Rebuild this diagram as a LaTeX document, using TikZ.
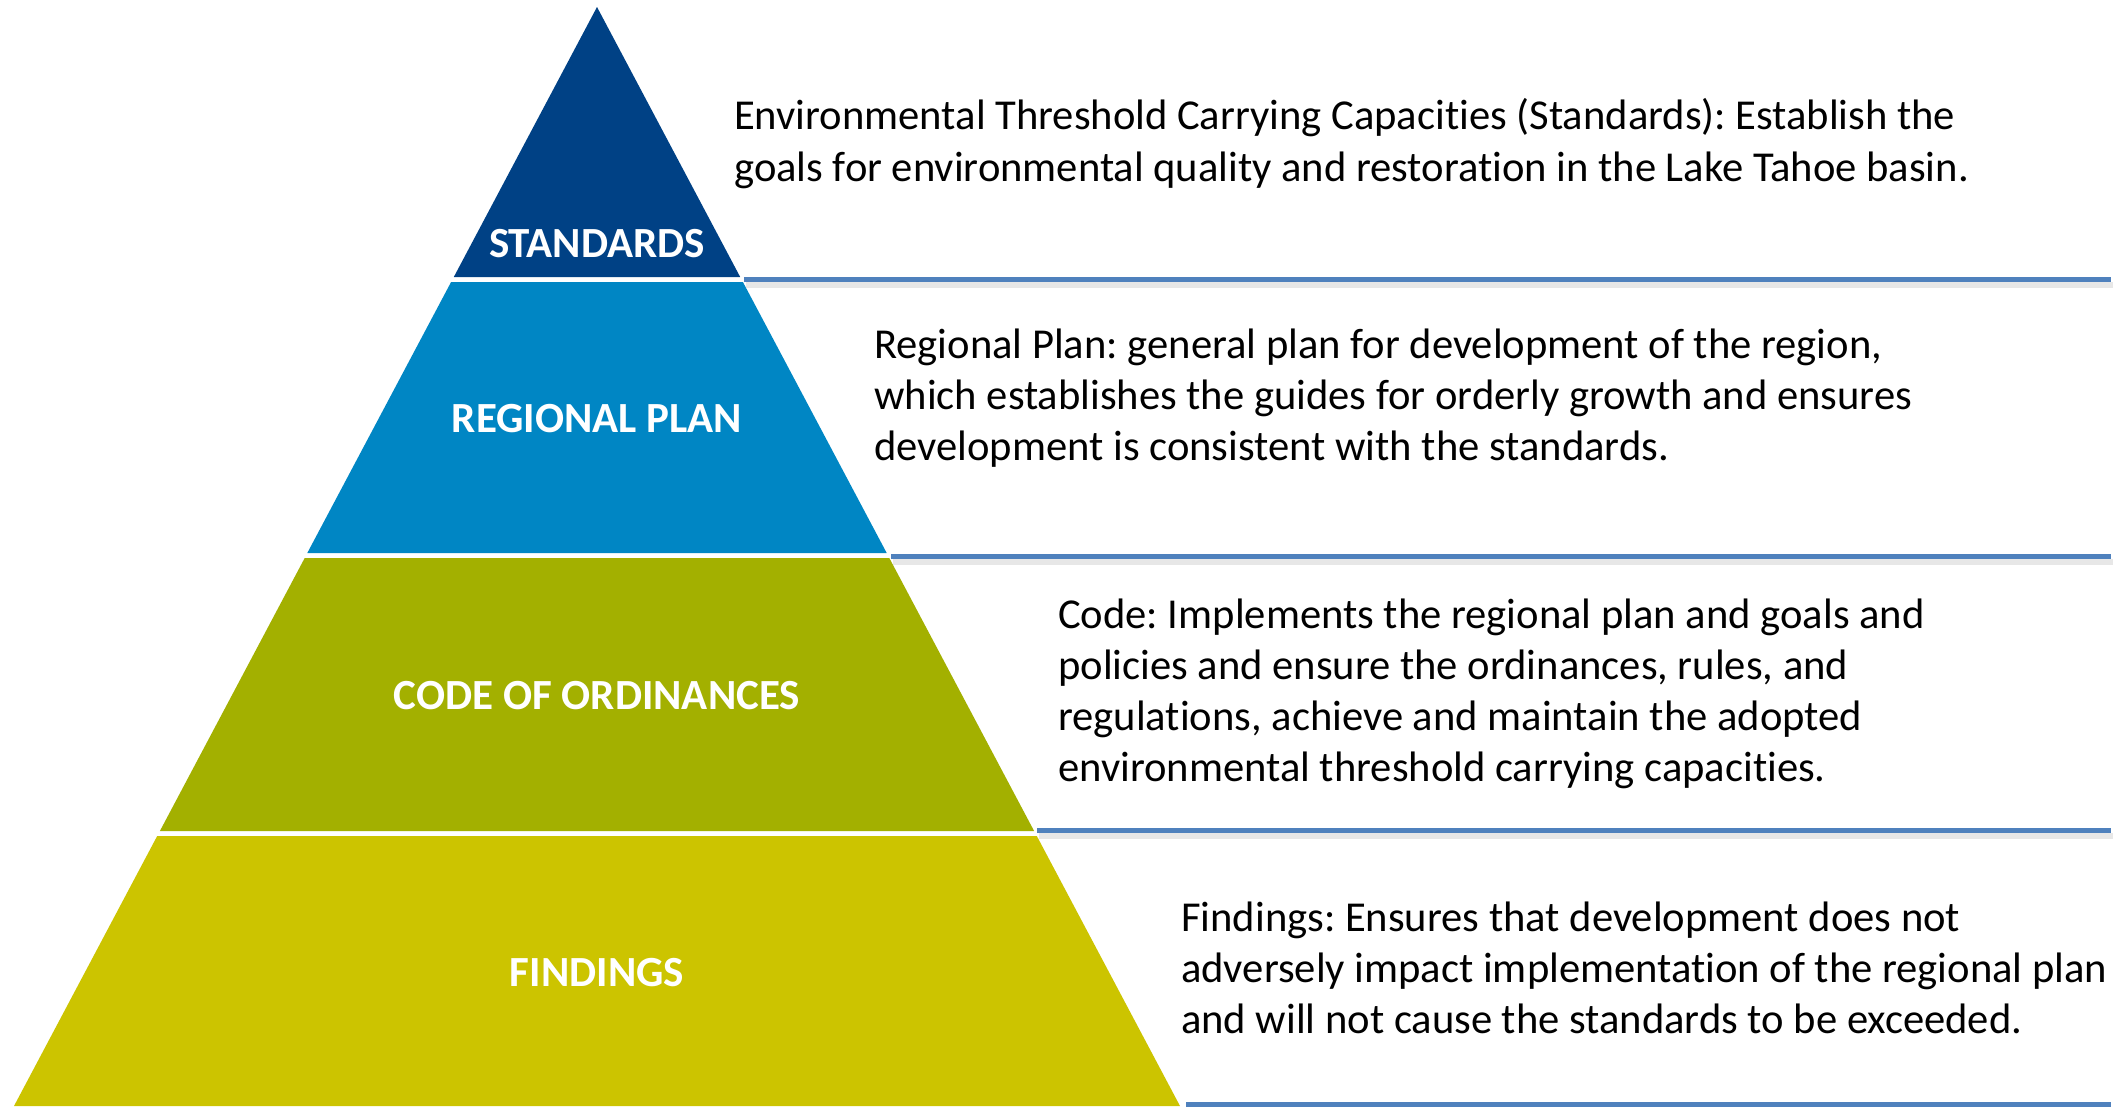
\documentclass[tikz,border=0pt]{standalone}
\usepackage{fontspec}
\setmainfont{Carlito}[Ligatures=NoCommon]
\definecolor{cStd}{RGB}{0,65,133}
\definecolor{cReg}{RGB}{0,134,196}
\definecolor{cCode}{RGB}{163,176,0}
\definecolor{cFind}{RGB}{204,196,0}
\definecolor{cLine}{RGB}{79,129,189}
\newcommand\bodyfnt{\frenchspacing\fontsize{42.6}{51}\selectfont}
\newcommand\labfnt{\bfseries\fontsize{43}{50}\selectfont}
\tikzset{
  layer/.style={fill=#1, draw=none},
  lab/.style={anchor=base, inner sep=0pt, text=white, font=\labfnt},
  desc/.style={anchor=base west, inner sep=0pt, align=left, font=\bodyfnt},
  sepline/.style={draw=cLine, line width=5pt},
  shadowline/.style={draw=black!30, line width=6pt, opacity=0.3},
}
\begin{document}
\begin{tikzpicture}[x=1pt,y=-1pt]
\useasboundingbox[fill=white] (0,0) rectangle (2119,1106);
% pyramid layers
\fill[cStd]  (597,7) -- (740.2,277) -- (453.8,277) -- cycle;
\fill[cReg]  (451.1,282) -- (742.9,282) -- (886.7,553) -- (307.3,553) -- cycle;
\fill[cCode] (304.7,558) -- (889.3,558) -- (1034.1,831) -- (159.9,831) -- cycle;
\fill[cFind] (157.2,836) -- (1036.8,836) -- (1180,1106) -- (14,1106) -- cycle;
% labels
\node[lab] (lStd)  at (597,257) {STANDARDS};
\node[lab] (lReg)  at (597,432) {REGIONAL PLAN};
\node[lab] (lCode) at (597,709) {CODE OF ORDINANCES};
\node[lab] (lFind) at (597,986) {FINDINGS};
% separator lines
\coordinate (a1) at (744,279);  \coordinate (b1) at (2111,279);
\coordinate (a2) at (891,556);  \coordinate (b2) at (2111,556);
\coordinate (a3) at (1037,830); \coordinate (b3) at (2111,830);
\coordinate (a4) at (1186,1104); \coordinate (b4) at (2111,1104);
\foreach \i in {1,2,3,4}{
  \draw[shadowline] ([shift={(2,6)}]a\i) -- ([shift={(2,6)}]b\i);
  \draw[sepline] (a\i) -- (b\i);
}
% descriptions (anchor = baseline of last line)
\node[desc] (dStd) at (734,181) {Environmental Threshold Carrying Capacities (Standards): Establish the\\[1pt]goals for environmental quality and restoration in the Lake Tahoe basin.};
\node[desc] (dReg) at (874,460) {Regional Plan: general plan for development of the region,\\which establishes the guides for orderly growth and ensures\\development is consistent with the standards.};
\node[desc] (dCode) at (1058,781) {Code: Implements the regional plan and goals and\\policies and ensure the ordinances, rules, and\\regulations, achieve and maintain the adopted\\environmental threshold carrying capacities.};
\node[desc] (dFind) at (1181,1033) {Findings: Ensures that development does not\\adversely impact implementation of the regional plan\\and will not cause the standards to be exceeded.};
\end{tikzpicture}
\end{document}
